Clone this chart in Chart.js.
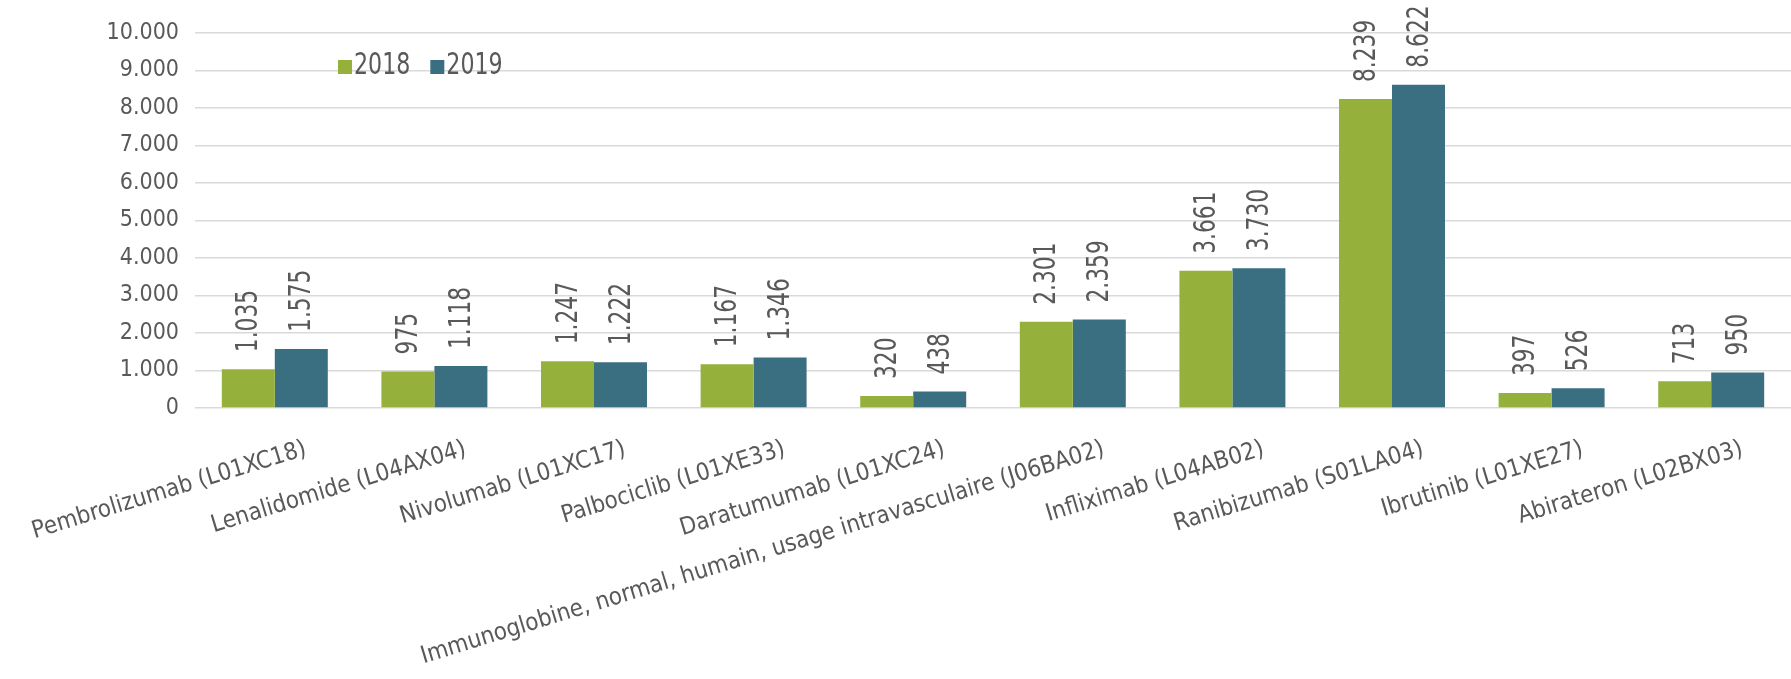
<!DOCTYPE html>
<html>
<head>
<meta charset="utf-8">
<script src="https://cdn.jsdelivr.net/npm/chart.js"></script>
<style>
  html, body { margin: 0; padding: 0; background: #fff; }
  #wrap { width: 1791px; height: 679px; }
</style>
</head>
<body>
<div id="wrap"><canvas id="chart" width="1791" height="679"></canvas></div>
<script>
// produits (code ATC)
const categories = [
  'Pembrolizumab (L01XC18)',
  'Lenalidomide (L04AX04)',
  'Nivolumab (L01XC17)',
  'Palbociclib (L01XE33)',
  'Daratumumab (L01XC24)',
  'Immunoglobine, normal, humain, usage intravasculaire (J06BA02)',
  'Infliximab (L04AB02)',
  'Ranibizumab (S01LA04)',
  'Ibrutinib (L01XE27)',
  'Abirateron (L02BX03)'
];
const seriesNames = ['2018', '2019'];
const values2018 = [1035, 975, 1247, 1167, 320, 2301, 3661, 8239, 397, 713];
const values2019 = [1575, 1118, 1222, 1346, 438, 2359, 3730, 8622, 526, 950];
const yTicks = [0, 1000, 2000, 3000, 4000, 5000, 6000, 7000, 8000, 9000, 10000];

const GREEN = '#95b13c';
const BLUE = '#3a6e81';
const TEXT = '#595959';
const FONT = '"DejaVu Sans Condensed", "Liberation Sans Narrow", sans-serif';

// 1.035 style (point as thousands separator)
function fmt(v) {
    return String(v).replace(/\B(?=(\d{3})+(?!\d))/g, '.');
}

// rotated value labels above bars
const barLabels = {
    id: 'barLabels',
    afterDatasetsDraw(chart) {
        const ctx = chart.ctx;
        ctx.save();
        ctx.fillStyle = TEXT;
        ctx.font = '31px ' + FONT;
        ctx.textAlign = 'left';
        ctx.textBaseline = 'middle';
        chart.data.datasets.forEach((ds, i) => {
            chart.getDatasetMeta(i).data.forEach((bar, j) => {
                ctx.save();
                ctx.translate(bar.x, bar.y - 17);
                ctx.rotate(-Math.PI / 2);
                ctx.scale(0.78, 1);  // narrower glyphs, like the original
                ctx.fillText(fmt(ds.data[j]), 0, 1);
                ctx.restore();
            });
        });
        ctx.restore();
    }
};

// legend inside the plot, top left
const innerLegend = {
    id: 'innerLegend',
    afterDraw(chart) {
        const ctx = chart.ctx;
        ctx.save();
        ctx.font = '30px ' + FONT;
        ctx.textBaseline = 'middle';
        ctx.textAlign = 'left';
        let x = 338;
        const y = 66;
        chart.data.datasets.forEach(ds => {
            ctx.fillStyle = ds.backgroundColor;
            ctx.fillRect(x, y - 6, 14, 14);
            ctx.fillStyle = TEXT;
            ctx.save();
            ctx.translate(x + 16, y);
            ctx.scale(0.82, 1);
            ctx.fillText(ds.label, 0, 0);
            ctx.restore();
            x += 16 + ctx.measureText(ds.label).width * 0.82 + 20;
        });
        ctx.restore();
    }
};

new Chart(document.getElementById('chart'), {
    type: 'bar',
    data: {
        labels: categories,
        datasets: [
            { label: seriesNames[0], data: values2018, backgroundColor: GREEN },
            { label: seriesNames[1], data: values2019, backgroundColor: BLUE }
        ]
    },
    options: {
        responsive: false,
        animation: false,
        layout: { padding: { top: 33, right: 0, left: 0, bottom: 0 } },
        datasets: { bar: { categoryPercentage: 0.664, barPercentage: 1 } },
        plugins: {
            legend: { display: false },
            tooltip: { enabled: false }
        },
        scales: {
            x: {
                grid: { display: false },
                border: { display: false },
                ticks: {
                    color: TEXT,
                    font: { family: FONT, size: 24 },
                    autoSkip: false,
                    maxRotation: 17,
                    minRotation: 17,
                    labelOffset: 31,
                    padding: 19
                },
                afterFit(scale) {
                    scale.height = 271;
                    // long rotated labels must not push the plot area
                    scale.paddingLeft = 0;
                    scale.paddingRight = 0;
                }
            },
            y: {
                min: 0,
                max: 10000,
                afterBuildTicks(scale) { scale.ticks = yTicks.map(v => ({ value: v })); },
                grid: { color: '#d9d9d9', lineWidth: 1.5, drawTicks: false },
                border: { display: false },
                ticks: {
                    color: TEXT,
                    font: { family: FONT, size: 23 },
                    autoSkip: false,
                    padding: 16,
                    callback: v => fmt(v)
                },
                afterFit(scale) {
                    scale.width = 195;
                    scale.paddingTop = 0;
                    scale.paddingBottom = 0;
                }
            }
        }
    },
    plugins: [barLabels, innerLegend]
});
</script>
</body>
</html>
